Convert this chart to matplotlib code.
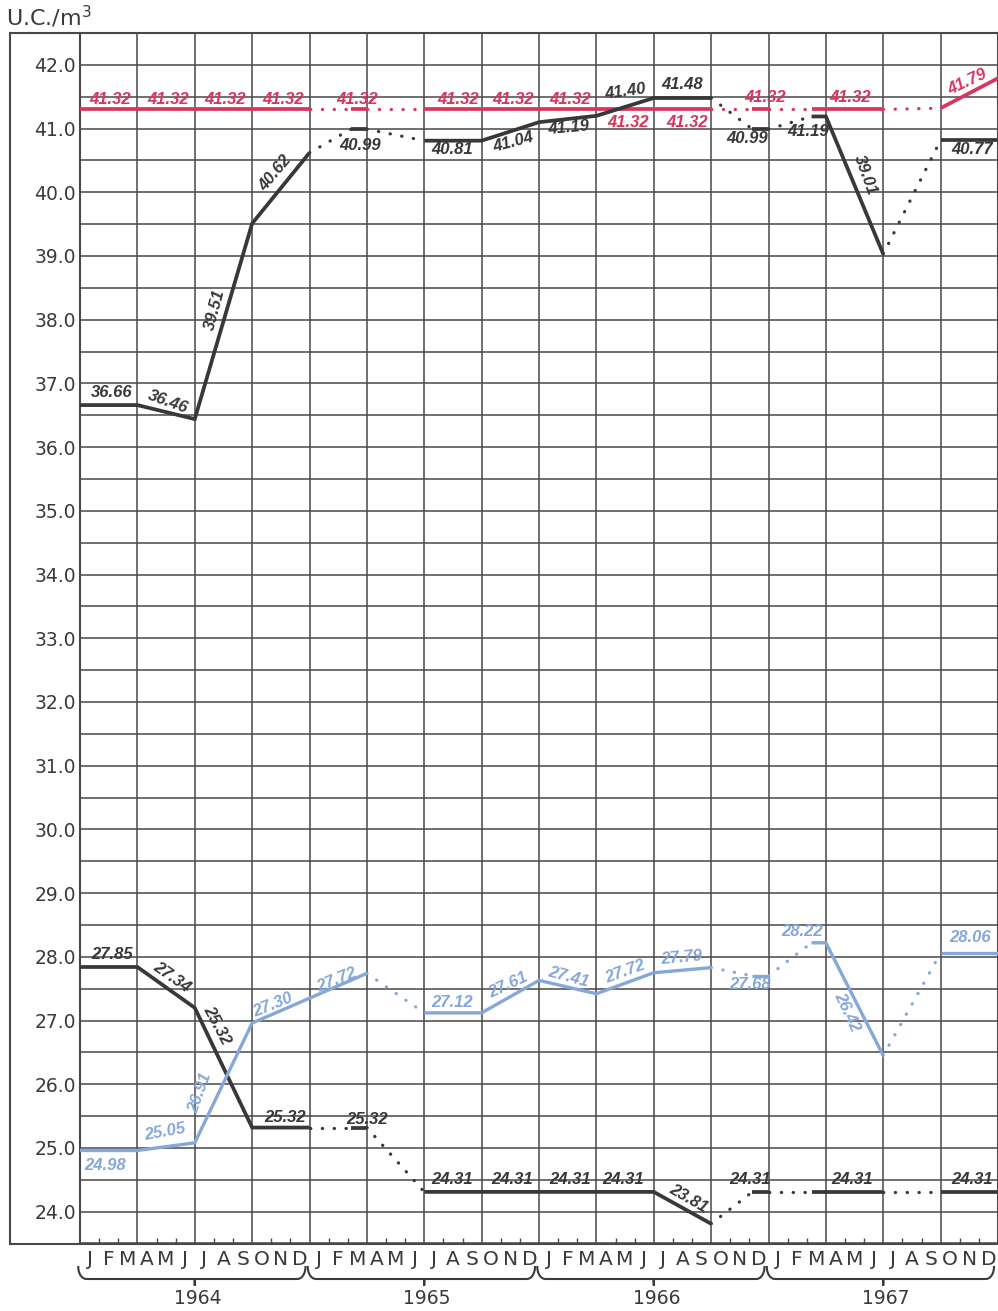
import matplotlib
matplotlib.use("Agg")
import matplotlib.pyplot as plt
import matplotlib.transforms as mtransforms
from matplotlib.lines import Line2D
import numpy as np

# x is measured in quarters: 0 = start of 1964, 16 = end of 1967
years = ['1964', '1965', '1966', '1967']
months = ['J', 'F', 'M', 'A', 'M', 'J', 'J', 'A', 'S', 'O', 'N', 'D']

# red series (41.32 level)
red_x = [0, 4, 4.72, 5, 6, 11, 11.72, 12, 12.75, 14, 15, 16]
red_y = [41.3, 41.3, 41.3, 41.3, 41.3, 41.3, 41.3, 41.3, 41.3, 41.3, 41.32, 41.79]
red_style = ['-', ':', '-', ':', '-', ':', '-', ':', '-', ':', '-']

# dark series, upper
up_x = [0, 1, 2, 3, 4, 4.72, 5, 6, 7, 8, 9, 10, 11, 11.72, 12, 12.75, 13, 14, 15, 16]
up_y = [36.66, 36.66, 36.44, 39.51, 40.62, 40.99, 40.99, 40.81, 40.81, 41.1, 41.2,
        41.48, 41.48, 40.99, 40.99, 41.19, 41.19, 39.03, 40.82, 40.82]
up_style = ['-', '-', '-', '-', ':', '-', ':', '-', '-', '-', '-', '-', ':', '-', ':', '-', '-', ':', '-']

# dark series, lower
low_x = [0, 1, 2, 3, 4, 4.72, 5, 6, 10, 11, 11.72, 12, 12.75, 14, 15, 16]
low_y = [27.84, 27.84, 27.2, 25.32, 25.32, 25.32, 25.32, 24.31, 24.31, 23.81,
         24.31, 24.31, 24.31, 24.31, 24.31, 24.31]
low_style = ['-', '-', '-', '-', ':', '-', ':', '-', '-', ':', '-', ':', '-', ':', '-']

# blue series
blue_x = [0, 1, 2, 3, 4, 5, 6, 7, 8, 9, 10, 11, 11.72, 12, 12.75, 13, 14, 15, 16]
blue_y = [24.96, 24.96, 25.08, 26.96, 27.35, 27.74, 27.12, 27.12, 27.63, 27.42,
          27.75, 27.83, 27.70, 27.70, 28.22, 28.22, 26.45, 28.06, 28.06]
blue_style = ['-', '-', '-', '-', '-', ':', '-', '-', '-', '-', '-', ':', '-', ':', '-', '-', ':', '-']

# value labels: (x, y, text, rotation)
red_labels = [(0.52, 41.46, '41.32', 0), (1.53, 41.46, '41.32', 0), (2.53, 41.46, '41.32', 0),
              (3.54, 41.46, '41.32', 0), (4.83, 41.46, '41.32', 0), (6.59, 41.46, '41.32', 0),
              (7.55, 41.46, '41.32', 0), (8.54, 41.46, '41.32', 0), (9.55, 41.10, '41.32', 0),
              (10.58, 41.10, '41.32', 0), (11.94, 41.48, '41.32', 0), (13.42, 41.48, '41.32', 0),
              (15.46, 41.73, '41.79', 25)]
up_labels = [(0.56, 36.85, '36.66', 0), (1.53, 36.71, '36.46', -20), (2.35, 38.15, '39.51', 75),
             (3.40, 40.30, '40.62', 50), (4.88, 40.74, '40.99', 0), (6.48, 40.67, '40.81', 0),
             (7.55, 40.79, '41.04', 15), (8.51, 41.01, '41.19', 5), (9.50, 41.58, '41.40', 8),
             (10.49, 41.69, '41.48', 0), (11.63, 40.85, '40.99', 0), (12.69, 40.95, '41.19', 0),
             (13.68, 40.27, '39.01', -70), (15.55, 40.67, '40.77', 0)]
low_labels = [(0.56, 28.03, '27.85', 0), (1.60, 27.68, '27.34', -35), (2.39, 26.93, '25.32', -62),
              (3.57, 25.47, '25.32', 0), (5.0, 25.45, '25.32', 0), (6.48, 24.50, '24.31', 0),
              (7.53, 24.50, '24.31', 0), (8.54, 24.50, '24.31', 0), (9.46, 24.50, '24.31', 0),
              (10.6, 24.21, '23.81', -30), (11.68, 24.50, '24.31', 0), (13.46, 24.50, '24.31', 0),
              (15.55, 24.50, '24.31', 0)]
blue_labels = [(0.44, 24.73, '24.98', 0), (1.48, 25.25, '25.05', 10), (2.09, 25.86, '26.91', 70),
               (3.36, 27.24, '27.30', 22), (4.48, 27.64, '27.72', 22), (6.48, 27.29, '27.12', 0),
               (7.46, 27.56, '27.61', 25), (8.51, 27.68, '27.41', -15), (9.50, 27.76, '27.72', 20),
               (10.49, 27.98, '27.79', 5), (11.68, 27.56, '27.68', 0), (12.58, 28.39, '28.22', 0),
               (13.37, 27.13, '26.42', -65), (15.51, 28.30, '28.06', 0)]

RED = '#d8365f'
DARK = '#383838'
BLUE = '#86a7d9'
GRID = '#484848'
TEXT = '#3a3a3a'

W, H = 998, 1311
fig = plt.figure(figsize=(W / 100, H / 100), dpi=100)
ax = fig.add_axes([80 / W, 1 - 1243.5 / H, 918 / W, 1210.5 / H])
ax.set_xlim(0, 16)
ax.set_ylim(23.5, 42.5)

# grid
for q in range(17):
    ax.axvline(q, color=GRID, lw=1.1, zorder=1)
for v in np.arange(23.5, 42.51, 0.5):
    ax.axhline(v, color=GRID, lw=1.1, zorder=1)
for s in ax.spines.values():
    s.set_color(GRID)
    s.set_linewidth(1.5)


def draw_series(xs, ys, styles, color, lw):
    i = 0
    n = len(styles)
    while i < n:
        j = i
        while j + 1 < n and styles[j + 1] == styles[i]:
            j += 1
        seg_x = xs[i:j + 2]
        seg_y = ys[i:j + 2]
        if styles[i] == '-':
            ax.plot(seg_x, seg_y, color=color, lw=lw, solid_capstyle='butt',
                    solid_joinstyle='miter', zorder=3)
        else:
            ax.plot(seg_x, seg_y, color=color, lw=2.3, linestyle=(0, (0.1, 3.6)),
                    dash_capstyle='round', zorder=3)
        i = j + 1


draw_series(red_x, red_y, red_style, RED, 2.7)
draw_series(up_x, up_y, up_style, DARK, 2.7)
draw_series(low_x, low_y, low_style, DARK, 2.7)
draw_series(blue_x, blue_y, blue_style, BLUE, 2.4)

label_font = dict(family=['Liberation Sans', 'DejaVu Sans'], style='italic',
                  weight='bold', size=12, ha='center', va='center', zorder=4)
for labels, color in [(red_labels, RED), (up_labels, DARK), (low_labels, DARK), (blue_labels, BLUE)]:
    for x, y, t, r in labels:
        ax.text(x, y, t, color=color, rotation=r, rotation_mode='anchor', **label_font)

# y axis
yt = np.arange(24, 43, 1)
ax.set_yticks(yt)
ax.set_yticklabels(['%.1f' % v for v in yt], fontsize=13.5, color=TEXT)
ax.tick_params(axis='y', length=0, pad=3)

# x axis: month letters and small month ticks
centers = [(m + 0.5) / 3 for m in range(48)]
ax.set_xticks(centers)
ax.set_xticklabels(months * 4, fontsize=14.5, color=TEXT)
ax.tick_params(axis='x', length=0, pad=5)
minor = [q + f for q in range(16) for f in (1 / 3, 2 / 3)]
ax.set_xticks(minor, minor=True)
ax.tick_params(axis='x', which='minor', direction='in', length=4.5, width=1, color=GRID)

# outer frame around the y labels
ftop = 1 - 33 / H
fbot = 1 - 1243.5 / H
for xs, ys in [([10 / W, 10 / W], [ftop, fbot]), ([10 / W, 80 / W], [ftop, ftop]),
               ([10 / W, 80 / W], [fbot, fbot])]:
    fig.add_artist(Line2D(xs, ys, color=GRID, lw=1.5))

# year braces
bt = mtransforms.blended_transform_factory(ax.transData, fig.transFigure)


def fy(px):
    return 1 - px / H


for k, yr in enumerate(years):
    s = 4 * k - 0.03
    e = 4 * k + 3.93
    c = 4 * k + 2.0
    t = np.linspace(0, np.pi / 2, 8)
    lx = s + 0.14 * (1 - np.cos(t))
    ly = 1267 + 12 * np.sin(t)
    rx = e - 0.14 * (1 - np.cos(t[::-1]))
    ry = 1267 + 12 * np.sin(t[::-1])
    bx = list(lx) + [c, c, c] + list(rx)
    by = list(ly) + [1279, 1285, 1279] + list(ry)
    ax.add_line(Line2D(bx, [fy(p) for p in by], transform=bt, color=TEXT,
                       lw=1.5, clip_on=False))
    ax.text(4 * k + 2.05, fy(1298), yr, transform=bt, ha='center', va='center',
            fontsize=13.5, color=TEXT)

fig.text(6 / W, fy(17), 'U.C./m$^3$', ha='left', va='center', fontsize=16, color=TEXT)

fig.savefig('out.png', dpi=100)
